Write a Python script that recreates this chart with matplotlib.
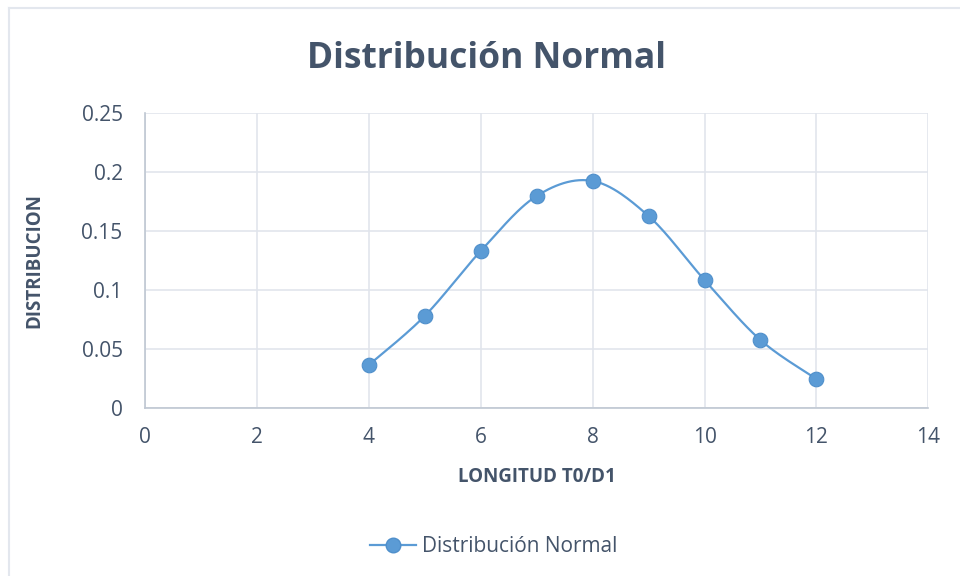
import matplotlib.pyplot as plt
from matplotlib.lines import Line2D
import numpy as np

# longitud vs distribucion normal
longitud = [4, 5, 6, 7, 8, 9, 10, 11, 12]
distribucion = [0.0364, 0.0780, 0.1330, 0.1797, 0.1924, 0.1627, 0.1085, 0.0576, 0.0246]

x_ticks = [0, 2, 4, 6, 8, 10, 12, 14]
y_ticks = [0, 0.05, 0.1, 0.15, 0.2, 0.25]
y_tick_labels = ["0", "0.05", "0.1", "0.15", "0.2", "0.25"]

BLUE = "#5B9BD5"
TEXT = "#44546A"
GRID = "#E1E5EC"
SPINE = "#BFC7D2"

plt.rcParams['font.family'] = ['Open Sans', 'DejaVu Sans']


def smooth_curve(xs, ys, n=30):
    # cubic bezier segments with catmull-rom style control points
    px = np.array(xs, dtype=float)
    py = np.array(ys, dtype=float)
    xp = np.concatenate([[px[0]], px, [px[-1]]])
    yp = np.concatenate([[py[0]], py, [py[-1]]])
    out_x, out_y = [], []
    t = np.linspace(0, 1, n)
    for i in range(1, len(xp) - 2):
        p0 = np.array([xp[i], yp[i]])
        p3 = np.array([xp[i + 1], yp[i + 1]])
        p1 = p0 + (np.array([xp[i + 1], yp[i + 1]]) - np.array([xp[i - 1], yp[i - 1]])) / 6
        p2 = p3 - (np.array([xp[i + 2], yp[i + 2]]) - np.array([xp[i], yp[i]])) / 6
        b = ((1 - t) ** 3)[:, None] * p0 + (3 * (1 - t) ** 2 * t)[:, None] * p1 \
            + (3 * (1 - t) * t ** 2)[:, None] * p2 + (t ** 3)[:, None] * p3
        out_x.extend(b[:, 0])
        out_y.extend(b[:, 1])
    return out_x, out_y


fig = plt.figure(figsize=(9.6, 5.76), dpi=100)
ax = fig.add_axes([0.151, 0.2917, 0.816, 0.5121])

sx, sy = smooth_curve(longitud, distribucion)
ax.plot(sx, sy, color=BLUE, linewidth=1.6, zorder=3)
ax.plot(longitud, distribucion, linestyle="none", marker="o", markersize=10.5,
        markerfacecolor=BLUE, markeredgecolor="#4F8FCB", markeredgewidth=0.8, zorder=4)

ax.set_xlim(0, 14)
ax.set_ylim(0, 0.25)
ax.set_xticks(x_ticks)
ax.set_yticks(y_ticks)
ax.set_yticklabels(y_tick_labels)
ax.tick_params(axis='both', length=0, labelsize=15, labelcolor=TEXT)
ax.tick_params(axis='x', pad=14)
ax.tick_params(axis='y', pad=16)
ax.grid(True, color=GRID, linewidth=1.2, zorder=0)
ax.set_axisbelow(True)
for side in ["top", "right"]:
    ax.spines[side].set_visible(False)
for side in ["left", "bottom"]:
    ax.spines[side].set_color(SPINE)
    ax.spines[side].set_linewidth(1.2)

ax.set_xlabel("LONGITUD T0/D1", fontsize=13.5, fontweight="bold", color=TEXT)
ax.set_ylabel("DISTRIBUCION", fontsize=13.5, fontweight="bold", color=TEXT)
ax.xaxis.set_label_coords(0.5, -0.2)
ax.yaxis.set_label_coords(-0.129, 0.5)

fig.text(0.507, 0.897, "Distribución Normal", ha="center", va="center",
         fontsize=25.5, fontweight="bold", color=TEXT)

handle = Line2D([0], [0], color=BLUE, linewidth=1.6, marker="o", markersize=10.5,
                markerfacecolor=BLUE, markeredgecolor="#4F8FCB")
fig.legend([handle], ["Distribución Normal"], loc="center", bbox_to_anchor=(0.514, 0.051),
           frameon=False, fontsize=15, labelcolor=TEXT, handlelength=2.2, handletextpad=0.3)

# chart area border
fig.add_artist(Line2D([0.0095, 0.0095], [0, 0.986], color="#E3E7EE", linewidth=1.5))
fig.add_artist(Line2D([0.0095, 1], [0.986, 0.986], color="#E3E7EE", linewidth=1.5))

fig.savefig("out.png", dpi=100)
